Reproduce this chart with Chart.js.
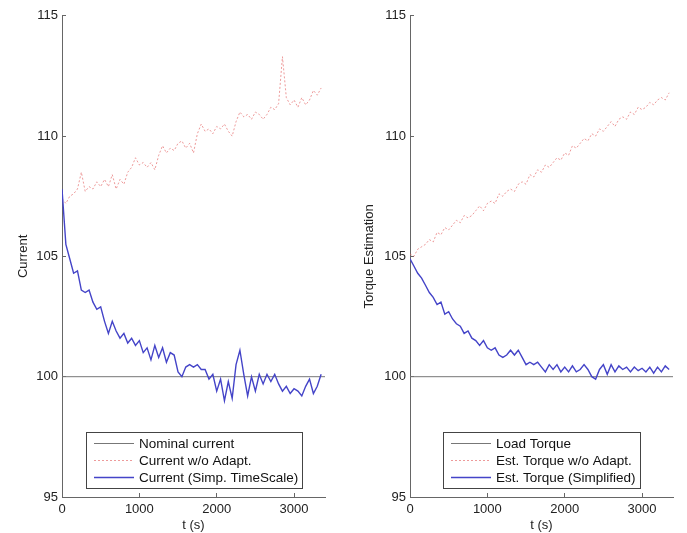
<!DOCTYPE html>
<html>
<head>
<meta charset="utf-8">
<script src="https://cdn.jsdelivr.net/npm/chart.js@4.4.0/dist/chart.umd.min.js"></script>
<style>
  body { margin: 0; background: #fff; }
  #wrap { position: relative; width: 687px; height: 533px; }
  canvas { position: absolute; top: 0; }
  #current-chart { left: 0; }
  #torque-chart { left: 340px; }
</style>
</head>
<body>
<div id="wrap">
  <canvas id="current-chart" width="340" height="533"></canvas>
  <canvas id="torque-chart" width="347" height="533"></canvas>
</div>
<script>
// sample times (s), shared by every logged series
const times = [0, 50, 100, 150, 200, 250, 300, 350, 400, 450, 500, 550, 600, 650, 700, 750,
  800, 850, 900, 950, 1000, 1050, 1100, 1150, 1200, 1250, 1300, 1350, 1400, 1450, 1500, 1550,
  1600, 1650, 1700, 1750, 1800, 1850, 1900, 1950, 2000, 2050, 2100, 2150, 2200, 2250, 2300, 2350,
  2400, 2450, 2500, 2550, 2600, 2650, 2700, 2750, 2800, 2850, 2900, 2950, 3000, 3050, 3100, 3150,
  3200, 3250, 3300, 3350];

// reference level (nominal current / load torque)
const nominalTimes = [0, 3400];
const nominalLevel = [100, 100];

const currentNoAdapt = [107.4, 107.2, 107.5, 107.6, 107.8, 108.5, 107.7, 107.9, 107.8, 108.1, 107.9, 108.2,
  107.9, 108.4, 107.8, 108.2, 108.0, 108.5, 108.7, 109.1, 108.8, 108.9, 108.7, 108.9, 108.6, 109.2,
  109.6, 109.3, 109.5, 109.4, 109.7, 109.8, 109.5, 109.7, 109.3, 110.1, 110.5, 110.2, 110.3, 110.1,
  110.4, 110.3, 110.5, 110.2, 110.0, 110.6, 111.0, 110.8, 110.9, 110.7, 111.0, 110.9, 110.7, 110.9,
  111.2, 111.1, 111.35, 113.3, 111.6, 111.3, 111.5, 111.2, 111.6, 111.3, 111.5, 111.9, 111.7, 112.0];

const currentSimp = [107.8, 105.5, 104.9, 104.3, 104.4, 103.6, 103.5, 103.6, 103.1, 102.8, 102.9, 102.3,
  101.8, 102.3, 101.9, 101.6, 101.8, 101.4, 101.6, 101.3, 101.5, 101.0, 101.2, 100.7, 101.3, 100.8,
  101.2, 100.6, 101.0, 100.9, 100.2, 100.0, 100.4, 100.5, 100.4, 100.5, 100.3, 100.3, 99.9, 100.1,
  99.4, 99.9, 99.0, 99.8, 99.1, 100.5, 101.1, 100.1, 99.2, 100.0, 99.4, 100.1, 99.7, 100.1,
  99.8, 100.1, 99.7, 99.4, 99.6, 99.3, 99.5, 99.4, 99.2, 99.6, 99.9, 99.3, 99.6, 100.1];

const torqueNoAdapt = [105.1, 105.0, 105.3, 105.4, 105.5, 105.7, 105.6, 106.0, 105.9, 106.2, 106.1, 106.3,
  106.5, 106.4, 106.7, 106.6, 106.7, 106.9, 107.1, 106.9, 107.2, 107.3, 107.2, 107.6, 107.5, 107.7,
  107.8, 107.7, 108.0, 108.1, 108.0, 108.4, 108.3, 108.6, 108.5, 108.8, 108.7, 108.9, 109.1, 109.0,
  109.3, 109.2, 109.6, 109.5, 109.7, 109.9, 109.8, 110.1, 110.0, 110.3, 110.2, 110.4, 110.6, 110.4,
  110.7, 110.8, 110.7, 111.0, 110.9, 111.2, 111.1, 111.2, 111.4, 111.3, 111.5, 111.6, 111.5, 111.8];

const torqueSimp = [104.9, 104.6, 104.3, 104.1, 103.8, 103.5, 103.3, 103.0, 103.1, 102.6, 102.7, 102.4,
  102.2, 102.1, 101.8, 101.9, 101.6, 101.5, 101.3, 101.5, 101.2, 101.1, 101.2, 100.9, 100.8, 100.9,
  101.1, 100.9, 101.1, 100.8, 100.5, 100.6, 100.5, 100.6, 100.4, 100.2, 100.5, 100.3, 100.5, 100.2,
  100.4, 100.2, 100.45, 100.2, 100.3, 100.5, 100.3, 100.0, 99.9, 100.3, 100.5, 100.1, 100.5, 100.2,
  100.45, 100.3, 100.4, 100.2, 100.4, 100.25, 100.35, 100.2, 100.4, 100.15, 100.4, 100.2, 100.45, 100.3];

const xTicks = [0, 1000, 2000, 3000];
const yTicks = [95, 100, 105, 110, 115];

const FONT = '"Liberation Sans", Arial, Helvetica, sans-serif';
Chart.defaults.font.family = FONT;
Chart.defaults.font.size = 13;
Chart.defaults.color = '#222';

function points(xs, ys) {
  return xs.map((x, i) => ({x: x, y: ys[i]}));
}

// matlab-style legend: framed box, centred near the bottom of the axes
const boxLegend = {
  id: 'boxLegend',
  afterDatasetsDraw(chart) {
    const {ctx, chartArea} = chart;
    const items = chart.data.datasets;
    ctx.save();
    ctx.font = '13.5px ' + FONT;
    const textW = Math.max(...items.map(d => ctx.measureText(d.label).width));
    const w = Math.round(8 + 40 + 5 + textW + 4);
    const h = 56;
    const x = Math.round((chartArea.left + chartArea.right) / 2 - w / 2);
    const y = Math.round(chartArea.bottom - 9 - h);
    ctx.fillStyle = '#fff';
    ctx.fillRect(x, y, w, h);
    ctx.strokeStyle = '#444';
    ctx.lineWidth = 1;
    ctx.strokeRect(x + 0.5, y + 0.5, w, h);
    items.forEach((d, i) => {
      const rowY = y + 11 + i * 17 + 0.5;
      ctx.beginPath();
      ctx.setLineDash(d.borderDash || []);
      ctx.strokeStyle = d.borderColor;
      ctx.lineWidth = d.borderWidth || 1;
      ctx.moveTo(x + 8, rowY);
      ctx.lineTo(x + 48, rowY);
      ctx.stroke();
      ctx.setLineDash([]);
      ctx.fillStyle = '#111';
      ctx.textBaseline = 'middle';
      ctx.fillText(d.label, x + 53, rowY + 0.5);
    });
    ctx.restore();
  }
};

function makeChart(canvasId, yTitle, yWidth, titlePad, labels, noAdapt, simp) {
  return new Chart(document.getElementById(canvasId), {
    type: 'line',
    data: {
      datasets: [{
        label: labels[0],
        data: points(nominalTimes, nominalLevel),
        borderColor: '#777',
        borderWidth: 1,
        order: 3
      }, {
        label: labels[1],
        data: points(times, noAdapt),
        borderColor: 'rgba(228, 100, 100, 0.65)',
        borderDash: [2, 2],
        borderWidth: 1,
        order: 2
      }, {
        label: labels[2],
        data: points(times, simp),
        borderColor: '#4444c8',
        borderWidth: 1.4,
        order: 1
      }]
    },
    options: {
      responsive: false,
      animation: false,
      layout: { padding: { top: 15, right: canvasId === 'current-chart' ? 15 : 14, bottom: 0, left: 0 } },
      elements: {
        line: { tension: 0, fill: false },
        point: { radius: 0 }
      },
      plugins: { legend: { display: false }, tooltip: { enabled: false } },
      scales: {
        x: {
          type: 'linear',
          min: 0,
          max: 3400,
          afterFit: s => { s.height = 36; },
          afterBuildTicks: s => { s.ticks = xTicks.map(v => ({value: v})); },
          ticks: { padding: 9, maxRotation: 0, callback: v => String(v) },
          grid: { drawOnChartArea: false, tickLength: -4, color: '#666' },
          border: { color: '#666' },
          title: { display: true, text: 't (s)', padding: { top: 0, bottom: 0 } }
        },
        y: {
          min: 95,
          max: 115,
          afterFit: s => { s.width = yWidth; },
          afterBuildTicks: s => { s.ticks = yTicks.map(v => ({value: v})); },
          ticks: { padding: 8, callback: v => String(v) },
          grid: { drawOnChartArea: false, tickLength: -4, color: '#666' },
          border: { color: '#666' },
          title: { display: true, text: yTitle, padding: { top: titlePad, bottom: 0 } }
        }
      }
    },
    plugins: [boxLegend]
  });
}

document.addEventListener('DOMContentLoaded', () => {
  makeChart('current-chart', 'Current', 62, 16,
    ['Nominal current', 'Current w/o Adapt.', 'Current (Simp. TimeScale)'],
    currentNoAdapt, currentSimp);
  makeChart('torque-chart', 'Torque Estimation', 70, 22,
    ['Load Torque', 'Est. Torque w/o Adapt.', 'Est. Torque (Simplified)'],
    torqueNoAdapt, torqueSimp);
});
</script>
</body>
</html>
